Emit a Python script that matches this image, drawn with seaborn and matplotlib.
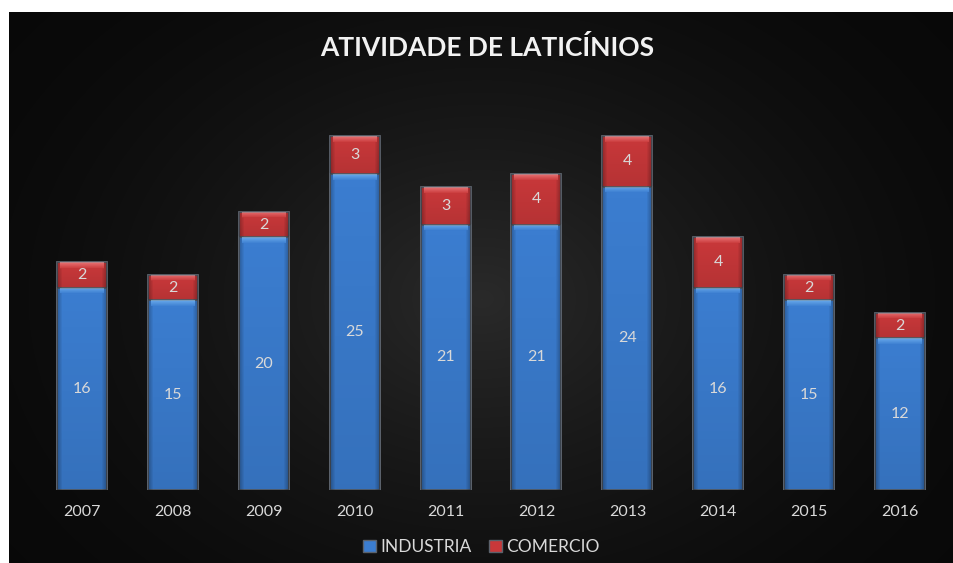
import numpy as np
import pandas as pd
import matplotlib
matplotlib.use("Agg")
import matplotlib.pyplot as plt
import seaborn as sns
from matplotlib.patches import Patch, Rectangle

# Data
years = ["2007", "2008", "2009", "2010", "2011", "2012", "2013", "2014", "2015", "2016"]
industria = [16, 15, 20, 25, 21, 21, 24, 16, 15, 12]
comercio = [2, 2, 2, 3, 3, 4, 4, 4, 2, 2]

title = "ATIVIDADE DE LATICÍNIOS"
series_names = ["INDUSTRIA", "COMERCIO"]

BLUE = "#3b7dd0"
RED = "#c9383a"
EDGE = "#5b626c"
TEXT = "#d9d9d9"

sns.set_theme(style="dark")
plt.rcParams["font.family"] = ["Lato", "DejaVu Sans"]

W, H = 954, 563
fig = plt.figure(figsize=(W / 100, H / 100), dpi=100)
fig.patch.set_facecolor("white")

# Dark panel with a soft radial glow
bx0, by_top = 9, 12
fig.patches.append(Rectangle((bx0 / W, -0.01), 1.02, 1 - by_top / H + 0.01,
                             transform=fig.transFigure, facecolor="#0a0a0a",
                             edgecolor="none", zorder=-10))
bw, bh = W - bx0, H - by_top
bg = fig.add_axes([bx0 / W, 0, bw / W, bh / H])
yy, xx = np.mgrid[0:bh, 0:bw]
r = np.sqrt(((xx - bw * 0.5) / (bw * 0.62)) ** 2 + ((yy - bh * 0.52) / (bh * 0.80)) ** 2)
r = np.clip(r, 0, 1)
lev = 0.035 + (0.165 - 0.035) * (1 - r) ** 1.6
img = np.dstack([lev, lev, lev])
bg.imshow(img, aspect="auto", extent=[0, 1, 0, 1], interpolation="bilinear")
bg.set_xlim(0, 1)
bg.set_ylim(0, 1)
bg.axis("off")

# Plot area
ax_left, ax_right = 36.5, 945.5
ax_base = 490
px_per_unit = 12.64
ymax = 30
ax = fig.add_axes([ax_left / W, (H - ax_base) / H, (ax_right - ax_left) / W,
                   ymax * px_per_unit / H])
ax.set_facecolor("none")

df = pd.DataFrame({"ano": years, "INDUSTRIA": industria, "COMERCIO": comercio})
df["TOTAL"] = df["INDUSTRIA"] + df["COMERCIO"]

sns.barplot(data=df, x="ano", y="TOTAL", color=RED, saturation=1, width=0.55,
            edgecolor=EDGE, linewidth=1.3, ax=ax)
sns.barplot(data=df, x="ano", y="INDUSTRIA", color=BLUE, saturation=1, width=0.55,
            edgecolor=EDGE, linewidth=1.3, ax=ax)
ax.set_xlim(-0.5, len(years) - 0.5)
ax.set_ylim(0, ymax)

# Bevel shading on each stacked segment
n = len(years)
red_bars = ax.patches[:n]
blue_bars = ax.patches[n:2 * n]


def shade(patch, y0, y1, light):
    x0 = patch.get_x()
    x1 = x0 + patch.get_width()
    p0 = ax.transData.transform((x0, y0))
    p1 = ax.transData.transform((x1, y1))
    hp = max(int(round(p1[1] - p0[1])), 2)
    wp = max(int(round(p1[0] - p0[0])), 2)
    rgba = np.zeros((hp, wp, 4))
    rows = np.arange(hp)[:, None] * np.ones((1, wp))
    cols = np.ones((hp, 1)) * np.arange(wp)[None, :]
    side = np.minimum(cols, wp - 1 - cols)
    # top highlight band
    top = np.clip(1 - rows / 6.0, 0, 1) * (side > 2)
    # dark side rims
    dark = np.clip(1 - side / 5.0, 0, 1) * 0.25
    # slight darkening towards the bottom
    dark = dark + (rows / hp) * 0.10
    rgba[..., :3] = np.where(top[..., None] > 0, np.array(light), 0.0)
    rgba[..., 3] = np.maximum(top * 0.55, dark)
    im = ax.imshow(rgba, extent=[x0, x1, y0, y1], origin="upper",
                   aspect="auto", interpolation="bilinear", zorder=3)
    im.set_clip_path(patch)


for i in range(n):
    ind = industria[i]
    com = comercio[i]
    shade(red_bars[i], ind, ind + com, (1.0, 0.62, 0.62))
    shade(blue_bars[i], 0, ind, (0.55, 0.80, 1.0))
    ax.text(i, ind / 2, str(ind), ha="center", va="center", color=TEXT,
            fontsize=11.5, zorder=5)
    ax.text(i, ind + com / 2, str(com), ha="center", va="center", color=TEXT,
            fontsize=11.5, zorder=5)

ax.set_xlim(-0.5, len(years) - 0.5)
ax.set_ylim(0, ymax)
ax.set_xlabel("")
ax.set_ylabel("")
ax.set_yticks([])
ax.tick_params(axis="x", length=0, colors=TEXT, labelsize=11.5, pad=11)
for s in ax.spines.values():
    s.set_visible(False)
ax.grid(False)

fig.text(487 / W, 1 - 47 / H, title, ha="center", va="center", color="#f2f2f2",
         fontsize=19, fontweight="bold")

handles = [Patch(facecolor=BLUE, edgecolor=EDGE, linewidth=1.0),
           Patch(facecolor=RED, edgecolor=EDGE, linewidth=1.0)]
fig.legend(handles, series_names, loc="center", bbox_to_anchor=(481 / W, 1 - 547 / H),
           ncol=2, frameon=False, labelcolor=TEXT, fontsize=12.5,
           handlelength=0.75, handleheight=0.75, handletextpad=0.25,
           columnspacing=1.0, borderaxespad=0)

fig.savefig("out.png", dpi=100, facecolor=fig.get_facecolor())
